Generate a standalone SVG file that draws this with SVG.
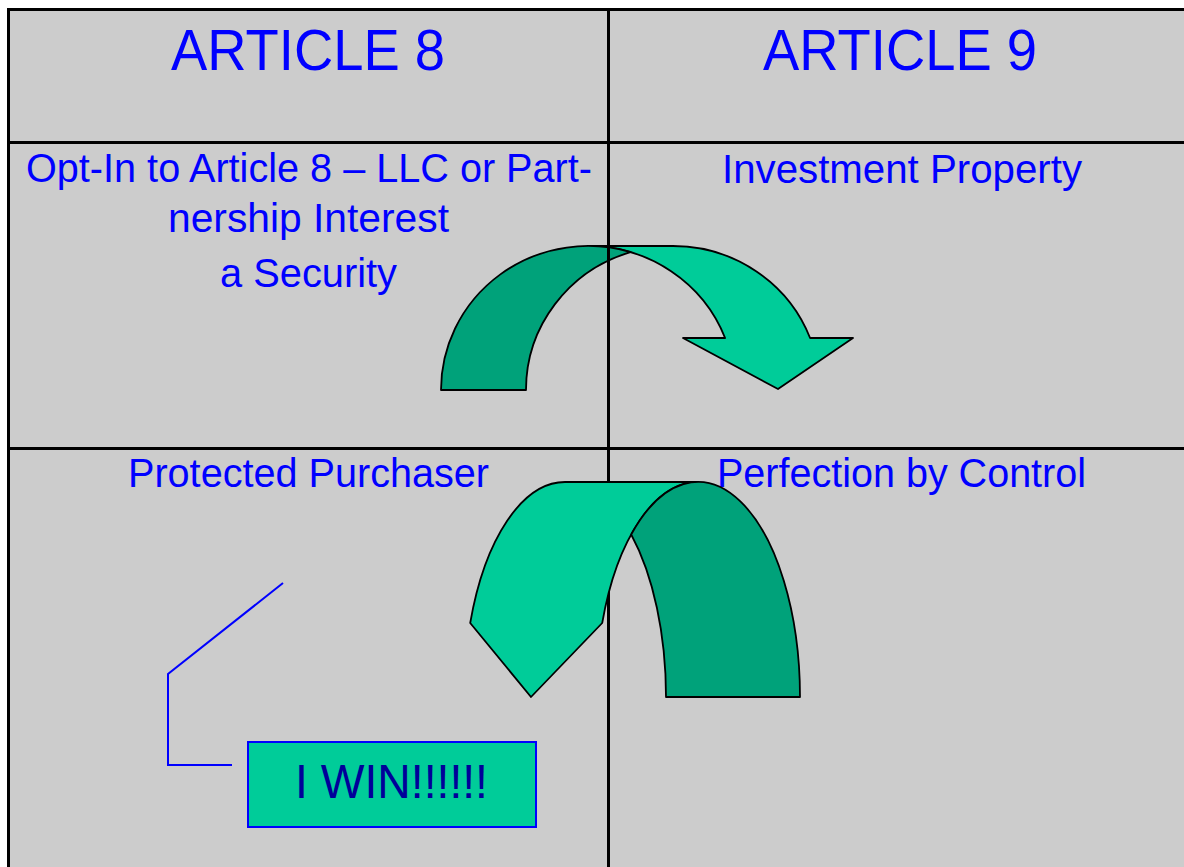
<svg xmlns="http://www.w3.org/2000/svg" width="1184" height="867" viewBox="0 0 1184 867">
  <style>
    .cell { font-family: "Liberation Sans", Arial, sans-serif; fill: #0000ff; text-anchor: middle; }
    .head { font-size: 58px; }
    .body { font-size: 40px; }
    .grid { stroke: #000000; stroke-width: 3; fill: none; }
    .light { fill: #00cc99; stroke: #000000; stroke-width: 1.8; stroke-linejoin: round; }
    .dark { fill: #00a27a; stroke: #000000; stroke-width: 1.8; stroke-linejoin: round; }
    .callout { fill: none; stroke: #0000ff; stroke-width: 2; }
  </style>

  <!-- page and table background -->
  <rect x="0" y="0" width="1184" height="867" fill="#ffffff"/>
  <rect x="8" y="10" width="1176" height="857" fill="#cccccc"/>

  <!-- upper curved arrow: Article 8 to Article 9 -->
  <g id="arrow-top">
    <path class="light" d="M588,246 L673,246 A147,144 0 0 1 810.1,338 L853,338 L778,389 L683,338 L725.1,338 A147,144 0 0 0 588,246 Z"/>
    <path class="dark" d="M441,390 A147,144 0 0 1 630.5,252.15 A147,144 0 0 0 526,390 Z"/>
  </g>

  <!-- table rules -->
  <g id="table-grid">
    <line class="grid" x1="8" y1="9.5" x2="1184" y2="9.5"/>
    <line class="grid" x1="8" y1="142.5" x2="1184" y2="142.5"/>
    <line class="grid" x1="8" y1="448.5" x2="1184" y2="448.5"/>
    <line class="grid" x1="8.5" y1="8" x2="8.5" y2="867"/>
    <line class="grid" x1="608.5" y1="8" x2="608.5" y2="867"/>
  </g>

  <!-- cell texts -->
  <g id="head-art8">
    <text class="cell head" x="308" y="70" textLength="274" lengthAdjust="spacingAndGlyphs">ARTICLE 8</text>
  </g>
  <g id="head-art9">
    <text class="cell head" x="900" y="70" textLength="274" lengthAdjust="spacingAndGlyphs">ARTICLE 9</text>
  </g>
  <g id="cell-opt-in">
    <text class="cell body" x="309" y="182" textLength="566" lengthAdjust="spacingAndGlyphs">Opt-In to Article 8 – LLC or Part-</text>
    <text class="cell body" x="308.5" y="232" textLength="281" lengthAdjust="spacingAndGlyphs">nership Interest</text>
    <text class="cell body" x="308.5" y="287" textLength="177" lengthAdjust="spacingAndGlyphs">a Security</text>
  </g>
  <g id="cell-investment">
    <text class="cell body" x="902" y="183" textLength="360" lengthAdjust="spacingAndGlyphs">Investment Property</text>
  </g>
  <g id="cell-protected">
    <text class="cell body" x="308.5" y="487" textLength="361" lengthAdjust="spacingAndGlyphs">Protected Purchaser</text>
  </g>
  <g id="cell-perfection">
    <text class="cell body" x="901.5" y="487" textLength="369" lengthAdjust="spacingAndGlyphs">Perfection by Control</text>
  </g>

  <!-- lower curved arrow: Article 9 back to Article 8 -->
  <g id="arrow-bottom">
    <path class="light" d="M470.2,623 A101,215 0 0 1 565,482 L698,482 A102,215 0 0 0 602.2,623 L531,697 Z"/>
    <path class="dark" d="M800,697 A102,215 0 0 0 631.2,534.5 A101,215 0 0 1 666,697 Z"/>
  </g>

  <!-- callout -->
  <g id="callout-win">
    <polyline class="callout" points="283,583 168,674 168,765 232,765"/>
    <rect x="248" y="742" width="288" height="85" fill="#00cc99" stroke="#0000ff" stroke-width="2"/>
    <text x="391.5" y="798" font-family="Liberation Sans, Arial, sans-serif" font-size="48" fill="#000099" text-anchor="middle" textLength="193" lengthAdjust="spacingAndGlyphs">I WIN!!!!!!</text>
  </g>
</svg>
